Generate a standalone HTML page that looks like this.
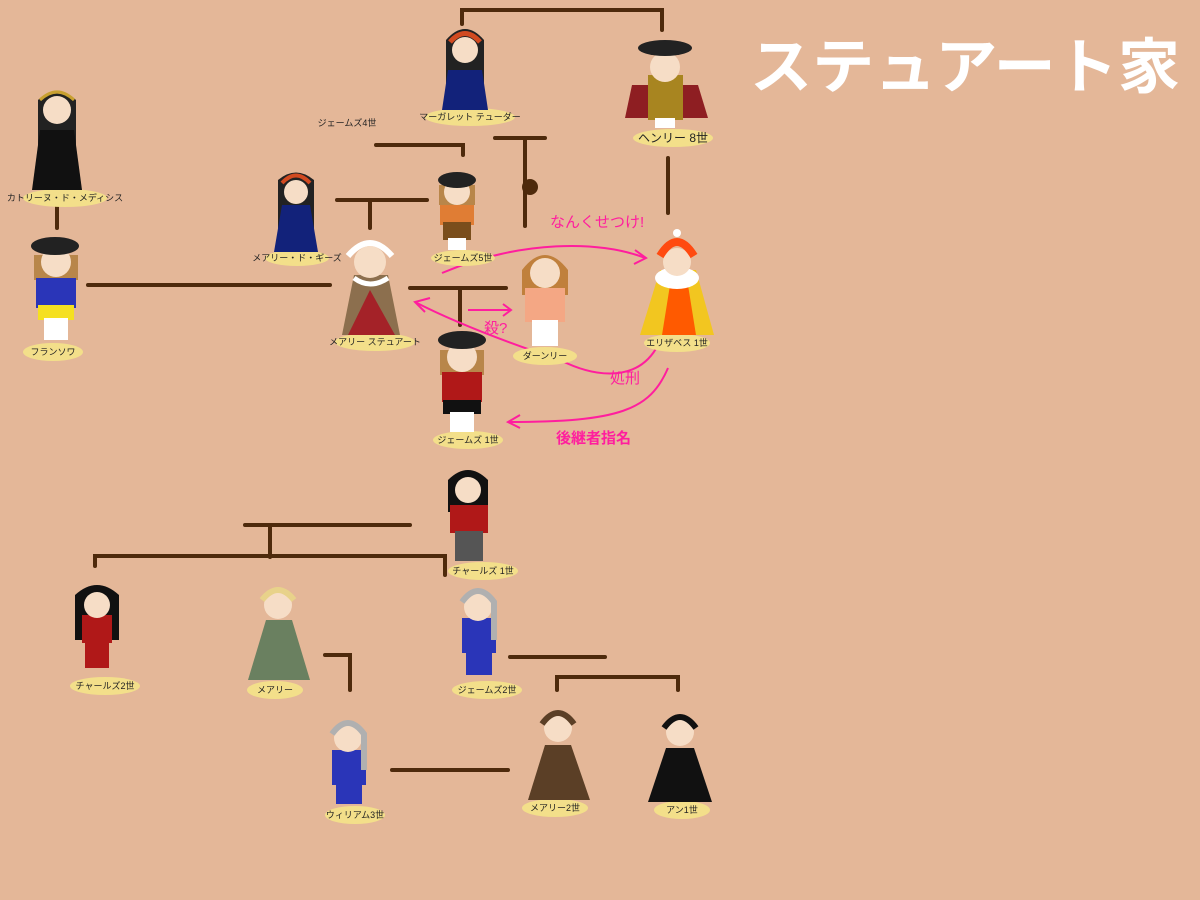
<!DOCTYPE html>
<html><head><meta charset="utf-8">
<style>
html,body{margin:0;padding:0;background:#e4b798;}
svg{display:block}
text{font-family:"Liberation Sans","Noto Sans CJK JP",sans-serif;}
</style></head><body>
<svg width="1200" height="900" viewBox="0 0 1200 900" xmlns="http://www.w3.org/2000/svg">
<rect width="1200" height="900" fill="#e4b798"/>
<text x="750" y="88" font-size="60" font-weight="bold" fill="#fff" textLength="430" lengthAdjust="spacingAndGlyphs">ステュアート家</text>

<g stroke="#4e2a0c" stroke-width="4" fill="none" stroke-linecap="round">
<path d="M462 24 V10 H662 V30"/>
<path d="M376 145 H463 V155"/>
<path d="M495 138 H545 M525 138 V226"/>
<path d="M337 200 H427 M370 200 V228"/>
<path d="M668 158 V213"/>
<path d="M57 207 V228"/>
<path d="M88 285 H330"/>
<path d="M410 288 H506 M460 288 V325"/>
<path d="M245 525 H410 M270 525 V557"/>
<path d="M95 566 V556 H445 V575"/>
<path d="M325 655 H350 V690"/>
<path d="M510 657 H605"/>
<path d="M557 690 V677 H678 V690"/>
<path d="M392 770 H508"/>
</g>
<circle cx="530" cy="187" r="8" fill="#4e2a0c"/>

<g stroke="#ff1e9e" stroke-width="2" fill="none">
<path d="M442 273 C520 240 600 240 645 258"/><path d="M635 250 L646 258 L634 264"/>
<path d="M658 345 C640 380 600 380 560 360 C500 340 450 320 415 302"/><path d="M430 298 L415 302 L425 312"/>
<path d="M468 310 H510"/><path d="M503 304 L511 310 L503 316"/>
<path d="M668 368 C650 410 620 422 508 422"/><path d="M520 415 L508 422 L520 428"/>
</g>
<g fill="#ff1e9e" font-size="15">
<text x="550" y="227">なんくせつけ!</text>
<text x="484" y="333">殺?</text>
<text x="610" y="383">処刑</text>
<text x="556" y="443" font-weight="bold">後継者指名</text>
</g>

<g fill="#f3df8a">
<ellipse cx="470" cy="117" rx="45" ry="9"/>
<ellipse cx="673" cy="138" rx="40" ry="9"/>
<ellipse cx="65" cy="198" rx="42" ry="9"/>
<ellipse cx="463" cy="258" rx="32" ry="8"/>
<ellipse cx="297" cy="258" rx="32" ry="8"/>
<ellipse cx="53" cy="352" rx="30" ry="9"/>
<ellipse cx="375" cy="342" rx="40" ry="9"/>
<ellipse cx="545" cy="356" rx="32" ry="9"/>
<ellipse cx="677" cy="343" rx="33" ry="9"/>
<ellipse cx="468" cy="440" rx="35" ry="9"/>
<ellipse cx="483" cy="571" rx="35" ry="9"/>
<ellipse cx="105" cy="686" rx="35" ry="9"/>
<ellipse cx="275" cy="690" rx="28" ry="9"/>
<ellipse cx="487" cy="690" rx="35" ry="9"/>
<ellipse cx="355" cy="815" rx="30" ry="9"/>
<ellipse cx="555" cy="808" rx="33" ry="9"/>
<ellipse cx="682" cy="810" rx="28" ry="9"/>
</g>
<g font-size="9" fill="#222" text-anchor="middle">
<text x="470" y="120">マーガレット テューダー</text>
<text x="673" y="142" font-size="12">ヘンリー 8世</text>
<text x="65" y="201">カトリーヌ・ド・メディシス</text>
<text x="463" y="261">ジェームズ5世</text>
<text x="297" y="261">メアリー・ド・ギーズ</text>
<text x="53" y="355">フランソワ</text>
<text x="375" y="345">メアリー ステュアート</text>
<text x="545" y="359">ダーンリー</text>
<text x="677" y="346">エリザベス 1世</text>
<text x="468" y="443">ジェームズ 1世</text>
<text x="483" y="574">チャールズ 1世</text>
<text x="105" y="689">チャールズ2世</text>
<text x="275" y="693">メアリー</text>
<text x="487" y="693">ジェームズ2世</text>
<text x="355" y="818">ウィリアム3世</text>
<text x="555" y="811">メアリー2世</text>
<text x="682" y="813">アン1世</text>
<text x="347" y="126">ジェームズ4世</text>
</g>

<g><path d="M446 40 Q465 18 484 40 V95 H446Z" fill="#222"/><path d="M448 70 L482 70 L488 110 L442 110Z" fill="#12227a"/><circle cx="465" cy="50" r="13" fill="#f6ddc6"/><path d="M450 42 Q465 25 480 42" stroke="#d24a20" stroke-width="5" fill="none"/></g>
<g><path d="M632 85 L698 85 L708 118 L625 118Z" fill="#8e1e22"/><rect x="648" y="75" width="35" height="45" fill="#a88520"/><circle cx="665" cy="67" r="15" fill="#f6ddc6"/><ellipse cx="665" cy="48" rx="27" ry="8" fill="#222"/><rect x="655" y="118" width="20" height="10" fill="#fff"/></g>
<g><path d="M38 100 Q57 82 76 100 V150 H38Z" fill="#222"/><path d="M40 130 L74 130 L82 190 L32 190Z" fill="#111"/><circle cx="57" cy="110" r="14" fill="#f6ddc6"/><path d="M40 100 Q57 84 74 100" stroke="#c8a030" stroke-width="3" fill="none"/></g>
<g><rect x="440" y="190" width="34" height="35" fill="#e07d34"/><rect x="443" y="222" width="28" height="18" fill="#7a4e1c"/><rect x="448" y="238" width="18" height="12" fill="#fff"/><rect x="439" y="185" width="36" height="20" fill="#b8864a"/><circle cx="457" cy="192" r="13" fill="#f6ddc6"/><ellipse cx="457" cy="180" rx="19" ry="8" fill="#222"/></g>
<g><path d="M278 180 Q296 165 314 180 V230 H278Z" fill="#222"/><path d="M282 205 L310 205 L318 252 L274 252Z" fill="#12227a"/><circle cx="296" cy="192" r="12" fill="#f6ddc6"/><path d="M282 183 Q296 168 310 183" stroke="#d24a20" stroke-width="4" fill="none"/></g>
<g><rect x="34" y="255" width="44" height="25" fill="#b8864a"/><rect x="36" y="278" width="40" height="30" fill="#2a35b8"/><rect x="38" y="305" width="36" height="15" fill="#f5e020"/><rect x="44" y="318" width="24" height="22" fill="#fff"/><circle cx="56" cy="262" r="15" fill="#f6ddc6"/><ellipse cx="55" cy="246" rx="24" ry="9" fill="#222"/></g>
<g><path d="M354 275 L388 275 L400 335 L342 335Z" fill="#8c6f4e"/><path d="M370 290 L395 335 L348 335Z" fill="#a42228"/><circle cx="370" cy="262" r="16" fill="#f6ddc6"/><path d="M348 256 Q370 230 392 256" stroke="#fff" stroke-width="6" fill="none"/><path d="M354 278 Q370 290 388 278" stroke="#fff" stroke-width="5" fill="none"/></g>
<g><path d="M522 270 Q545 240 568 270 V295 H522Z" fill="#c0803c"/><rect x="525" y="288" width="40" height="34" fill="#f4a784"/><rect x="532" y="320" width="26" height="26" fill="#fff"/><circle cx="545" cy="273" r="15" fill="#f6ddc6"/></g>
<g><path d="M660 270 L696 270 L714 335 L640 335Z" fill="#f2c620"/><path d="M670 285 L688 285 L696 335 L662 335Z" fill="#ff5a00"/><ellipse cx="677" cy="278" rx="22" ry="11" fill="#fff"/><circle cx="677" cy="262" r="14" fill="#f6ddc6"/><path d="M660 256 Q677 228 694 256" stroke="#ff4a10" stroke-width="8" fill="none"/><circle cx="677" cy="233" r="4" fill="#fff"/></g>
<g><rect x="440" y="350" width="44" height="25" fill="#b8864a"/><rect x="442" y="372" width="40" height="30" fill="#b01818"/><rect x="443" y="400" width="38" height="14" fill="#111"/><rect x="450" y="412" width="24" height="20" fill="#fff"/><circle cx="462" cy="357" r="15" fill="#f6ddc6"/><ellipse cx="462" cy="340" rx="24" ry="9" fill="#222"/></g>
<g><path d="M448 480 Q468 460 488 480 V512 H448Z" fill="#111"/><rect x="450" y="505" width="38" height="28" fill="#b01818"/><rect x="455" y="531" width="28" height="30" fill="#555"/><circle cx="468" cy="490" r="13" fill="#f6ddc6"/></g>
<g><path d="M75 595 Q97 575 119 595 V640 H75Z" fill="#111"/><rect x="82" y="615" width="30" height="28" fill="#b01818"/><rect x="85" y="640" width="24" height="28" fill="#b01818"/><circle cx="97" cy="605" r="13" fill="#f6ddc6"/></g>
<g><path d="M266 620 L292 620 L310 680 L248 680Z" fill="#6a8060"/><circle cx="278" cy="605" r="14" fill="#f6ddc6"/><path d="M262 600 Q278 580 294 600" stroke="#e8d28a" stroke-width="6" fill="none"/></g>
<g><rect x="462" y="618" width="34" height="35" fill="#2a35b8"/><rect x="466" y="650" width="26" height="25" fill="#2a35b8"/><circle cx="478" cy="607" r="14" fill="#f6ddc6"/><path d="M462 602 Q478 580 494 602 V640" stroke="#b0b0b0" stroke-width="6" fill="none"/></g>
<g><rect x="332" y="750" width="34" height="35" fill="#2a35b8"/><rect x="336" y="782" width="26" height="22" fill="#2a35b8"/><circle cx="348" cy="738" r="14" fill="#f6ddc6"/><path d="M332 734 Q348 712 364 734 V770" stroke="#b0b0b0" stroke-width="6" fill="none"/></g>
<g><path d="M545 745 L571 745 L590 800 L528 800Z" fill="#5b3f26"/><circle cx="558" cy="728" r="14" fill="#f6ddc6"/><path d="M542 724 Q558 702 574 724" stroke="#5b3f26" stroke-width="6" fill="none"/></g>
<g><path d="M666 748 L694 748 L712 802 L648 802Z" fill="#111"/><circle cx="680" cy="732" r="14" fill="#f6ddc6"/><path d="M664 728 Q680 706 696 728" stroke="#111" stroke-width="6" fill="none"/></g>
</svg>
</body></html>
